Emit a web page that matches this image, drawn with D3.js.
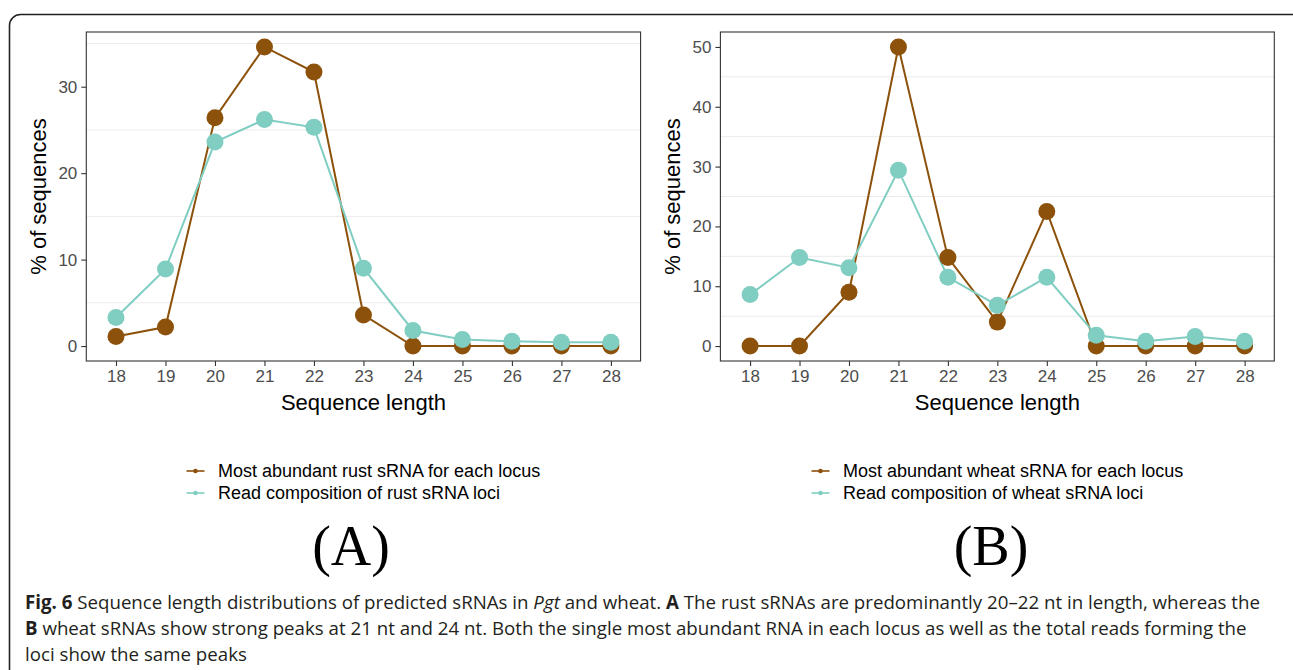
<!DOCTYPE html>
<html>
<head>
<meta charset="utf-8">
<script src="https://cdn.jsdelivr.net/npm/d3@7"></script>
<style>
  body { margin: 0; background: #fff; }
  svg { display: block; }
</style>
</head>
<body>
<svg id="fig" width="1293" height="670"></svg>
<script>
// Sequence length (nt) on the x axis
const lengths = [18, 19, 20, 21, 22, 23, 24, 25, 26, 27, 28];

// Panel A: rust (Pgt) sRNAs, % of sequences
const rustTop   = [1.1, 2.2, 26.4, 34.6, 31.7, 3.6, 0, 0, 0, 0, 0];
const rustReads = [3.3, 8.9, 23.6, 26.2, 25.3, 9.0, 1.8, 0.75, 0.55, 0.45, 0.45];

// Panel B: wheat sRNAs, % of sequences
const wheatTop   = [0, 0, 9.0, 50.0, 14.8, 4.0, 22.5, 0, 0, 0, 0];
const wheatReads = [8.6, 14.8, 13.1, 29.4, 11.5, 6.8, 11.5, 1.8, 0.8, 1.6, 0.8];

const yTicksRust  = [0, 10, 20, 30];
const yTicksWheat = [0, 10, 20, 30, 40, 50];
const xTicks = lengths;

const seriesColors = ["#8c510a", "#80cdc1"];
const legendRust  = ["Most abundant rust sRNA for each locus", "Read composition of rust sRNA loci"];
const legendWheat = ["Most abundant wheat sRNA for each locus", "Read composition of wheat sRNA loci"];
const panelTags = ["(A)", "(B)"];
const xTitle = "Sequence length";
const yTitle = "% of sequences";

const svg = d3.select("#fig");

// Outer rounded frame around the figure and caption
svg.append("rect")
  .attr("x", 9.5).attr("y", 14.5)
  .attr("width", 1300).attr("height", 700)
  .attr("rx", 11).attr("ry", 11)
  .attr("fill", "none").attr("stroke", "#222").attr("stroke-width", 1.6);

function drawPanel(cfg) {
  const g = svg.append("g");
  const top = 32, bottom = 361;

  const x = d3.scaleLinear().domain([17.4, 28.6]).range([cfg.left, cfg.right]);
  const ymax = d3.max(cfg.series.flat());
  const pad = ymax * 0.05;
  const y = d3.scaleLinear().domain([-pad, ymax + pad]).range([bottom, top]);

  // minor grid lines halfway between the major ticks
  const minor = [];
  for (let i = 0; i < cfg.yTicks.length; i++) {
    const v = cfg.yTicks[i] + (cfg.yTicks[1] - cfg.yTicks[0]) / 2;
    if (v < y.domain()[1]) minor.push(v);
  }
  g.selectAll("line.minor").data(minor).enter().append("line")
    .attr("x1", cfg.left).attr("x2", cfg.right)
    .attr("y1", d => y(d)).attr("y2", d => y(d))
    .attr("stroke", "#ebebeb").attr("stroke-width", 1);

  // series: lines first, then points per series
  const line = d3.line().x((d, i) => x(lengths[i])).y(d => y(d));
  cfg.series.forEach((s, k) => {
    g.append("path").datum(s)
      .attr("d", line)
      .attr("fill", "none")
      .attr("stroke", seriesColors[k])
      .attr("stroke-width", 2);
  });
  cfg.series.forEach((s, k) => {
    g.selectAll(null).data(s).enter().append("circle")
      .attr("cx", (d, i) => x(lengths[i]))
      .attr("cy", d => y(d))
      .attr("r", 8.5)
      .attr("fill", seriesColors[k]);
  });

  // panel border
  g.append("rect")
    .attr("x", cfg.left).attr("y", top)
    .attr("width", cfg.right - cfg.left).attr("height", bottom - top)
    .attr("fill", "none").attr("stroke", "#333").attr("stroke-width", 1.1);

  // axes
  const ax = g.append("g").attr("transform", `translate(0,${bottom})`)
    .call(d3.axisBottom(x).tickValues(xTicks).tickSize(5).tickPadding(4).tickFormat(d3.format("d")));
  const ay = g.append("g").attr("transform", `translate(${cfg.left},0)`)
    .call(d3.axisLeft(y).tickValues(cfg.yTicks).tickSize(5).tickPadding(4).tickFormat(d3.format("d")));
  [ax, ay].forEach(a => {
    a.select(".domain").remove();
    a.selectAll(".tick line").attr("stroke", "#333").attr("stroke-width", 1.1);
    a.selectAll(".tick text")
      .attr("fill", "#4d4d4d")
      .style("font-family", "'Liberation Sans', Arial, sans-serif")
      .style("font-size", "17px");
  });

  // axis titles
  g.append("text")
    .attr("x", (cfg.left + cfg.right) / 2).attr("y", 410)
    .attr("text-anchor", "middle")
    .style("font-family", "'Liberation Sans', Arial, sans-serif")
    .style("font-size", "22px").attr("fill", "#000")
    .text(xTitle);
  g.append("text")
    .attr("transform", `translate(${cfg.left - 40},${(top + bottom) / 2}) rotate(-90)`)
    .attr("text-anchor", "middle")
    .style("font-family", "'Liberation Sans', Arial, sans-serif")
    .style("font-size", "22px").attr("fill", "#000")
    .text(yTitle);

  // legend
  const lg = g.append("g").attr("transform", `translate(${cfg.legendX},471)`);
  cfg.legend.forEach((label, k) => {
    const row = lg.append("g").attr("transform", `translate(0,${k * 22})`);
    row.append("line").attr("x1", -9).attr("x2", 9).attr("y1", 0).attr("y2", 0)
      .attr("stroke", seriesColors[k]).attr("stroke-width", 1.6);
    row.append("circle").attr("r", 2.3).attr("fill", seriesColors[k]);
    row.append("text").attr("x", 22.5).attr("y", 0).attr("dy", "0.35em")
      .style("font-family", "'Liberation Sans', Arial, sans-serif")
      .style("font-size", "18px").attr("fill", "#000")
      .text(label);
  });

  // panel tag
  g.append("text")
    .attr("x", cfg.tagX).attr("y", 565)
    .attr("text-anchor", "middle")
    .style("font-family", "'Liberation Serif', 'Times New Roman', serif")
    .style("font-size", "56px").attr("fill", "#000")
    .text(cfg.tag);
}

drawPanel({ left: 86.3, right: 640.6, series: [rustTop, rustReads], yTicks: yTicksRust,
            legend: legendRust, legendX: 195.5, tag: panelTags[0], tagX: 351 });
drawPanel({ left: 720.4, right: 1274.3, series: [wheatTop, wheatReads], yTicks: yTicksWheat,
            legend: legendWheat, legendX: 820.5, tag: panelTags[1], tagX: 991 });

// Figure caption
const captionLines = [
  [["Fig. 6", "b"], [" Sequence length distributions of predicted sRNAs in ", ""], ["Pgt", "i"],
   [" and wheat. ", ""], ["A", "b"], [" The rust sRNAs are predominantly 20–22 nt in length, whereas the", ""]],
  [["B", "b"], [" wheat sRNAs show strong peaks at 21 nt and 24 nt. Both the single most abundant RNA in each locus as well as the total reads forming the", ""]],
  [["loci show the same peaks", ""]]
];
const cap = svg.append("text")
  .style("font-family", "'Open Sans', 'Noto Sans', sans-serif")
  .style("font-size", "18.7px").attr("fill", "#231f20");
captionLines.forEach((parts, li) => {
  parts.forEach((p, pi) => {
    const t = cap.append("tspan").text(p[0]).attr("xml:space", "preserve");
    if (pi === 0) t.attr("x", 25).attr("y", 609 + li * 26);
    if (p[1] === "b") t.style("font-weight", "bold");
    if (p[1] === "i") t.style("font-style", "italic");
  });
});
cap.style("white-space", "pre");
</script>
</body>
</html>
